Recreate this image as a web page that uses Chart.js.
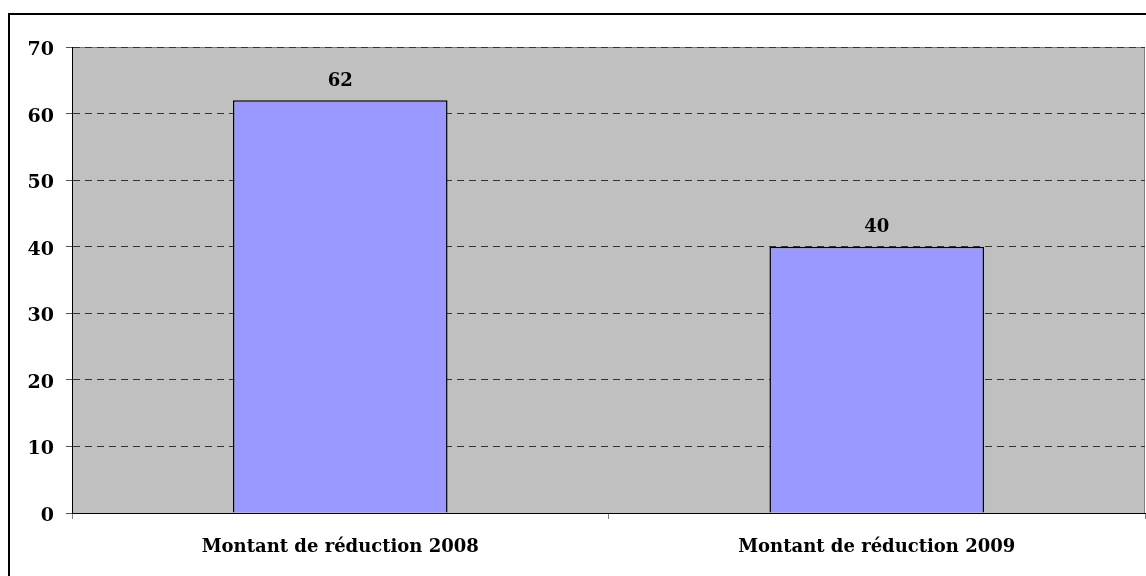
<!DOCTYPE html>
<html>
<head>
<meta charset="utf-8">
<script src="https://cdn.jsdelivr.net/npm/chart.js@4/dist/chart.umd.min.js"></script>
<style>
  html, body { margin: 0; padding: 0; background: #fff; }
  #wrap { width: 1146px; height: 576px; position: relative; }
</style>
</head>
<body>
<div id="wrap"><canvas id="c" width="1146" height="576"></canvas></div>
<script>
// Réductions par année
const categories = ['Montant de réduction 2008', 'Montant de réduction 2009'];
const montants = [62, 40];
const yMin = 0, yMax = 70, yStep = 10;

const FONT = "'DejaVu Serif', serif";

// Fond gris de la zone de tracé et cadre extérieur
const cadre = {
  id: 'cadre',
  beforeDraw(chart) {
    const { ctx, chartArea: a } = chart;
    ctx.save();
    ctx.fillStyle = '#ffffff';
    ctx.fillRect(0, 0, chart.width, chart.height);
    ctx.strokeStyle = '#000000';
    ctx.lineWidth = 2;
    ctx.strokeRect(9, 14, chart.width + 20, chart.height + 20);
    ctx.fillStyle = '#C0C0C0';
    ctx.fillRect(a.left, a.top, a.right - a.left, a.bottom - a.top);
    ctx.strokeStyle = '#808080';
    ctx.lineWidth = 1;
    ctx.beginPath();
    ctx.moveTo(a.left, a.top + 0.5);
    ctx.lineTo(a.right - 0.5, a.top + 0.5);
    ctx.lineTo(a.right - 0.5, a.bottom);
    ctx.stroke();
    ctx.restore();
  }
};

// Valeur inscrite au-dessus de chaque barre
const etiquettes = {
  id: 'etiquettes',
  afterDatasetsDraw(chart) {
    const { ctx } = chart;
    const meta = chart.getDatasetMeta(0);
    ctx.save();
    ctx.fillStyle = '#000';
    ctx.font = "bold 18px " + FONT;
    ctx.textAlign = 'center';
    ctx.textBaseline = 'middle';
    meta.data.forEach((bar, i) => {
      ctx.fillText(String(chart.data.datasets[0].data[i]), bar.x, bar.y - 19);
    });
    ctx.restore();
  }
};

new Chart(document.getElementById('c'), {
  type: 'bar',
  data: {
    labels: categories,
    datasets: [{
      data: montants,
      backgroundColor: '#9999FF',
      borderColor: '#000000',
      borderWidth: 1.5,
      borderSkipped: 'bottom',
      categoryPercentage: 1.0,
      barPercentage: 0.4
    }]
  },
  options: {
    responsive: false,
    animation: false,
    devicePixelRatio: 1,
    layout: { padding: { top: 47, right: 1, bottom: 0, left: 0 } },
    plugins: {
      legend: { display: false },
      tooltip: { enabled: false }
    },
    scales: {
      x: {
        offset: true,
        afterFit(s) { s.height = 63; },
        grid: {
          offset: true,
          drawOnChartArea: false,
          drawTicks: true,
          tickLength: 6,
          color: '#808080'
        },
        border: { display: true, color: '#000000', width: 1 },
        ticks: {
          color: '#000',
          padding: 18,
          maxRotation: 0,
          font: { family: FONT, size: 18, weight: 'bold' }
        }
      },
      y: {
        min: yMin,
        max: yMax,
        afterFit(s) { s.width = 72; },
        grid: {
          color: '#333333',
          tickColor: '#555555',
          tickLength: 6,
          drawTicks: true
        },
        border: { display: true, color: '#000000', width: 1, dash: [7, 5] },
        ticks: {
          stepSize: yStep,
          color: '#000',
          padding: 12,
          // étiquette sur deux lignes (la première vide) : le nombre descend un peu sous son trait
          callback: (v) => ['', String(v)],
          font: { family: FONT, size: 19, weight: 'bold', lineHeight: '6px' }
        }
      }
    }
  },
  plugins: [cadre, etiquettes]
});
</script>
</body>
</html>
